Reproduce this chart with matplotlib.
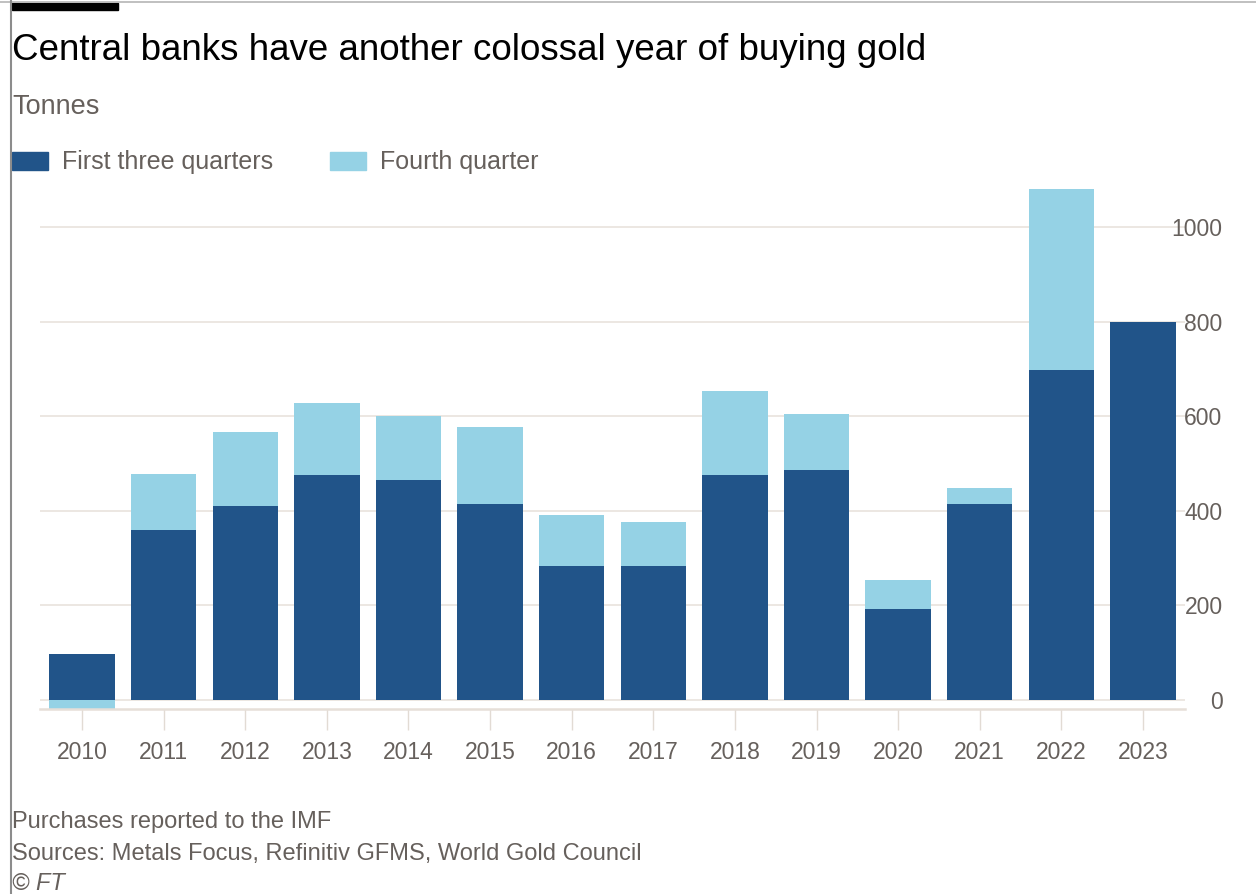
import matplotlib.pyplot as plt
import numpy as np
from matplotlib.patches import Rectangle
from matplotlib.lines import Line2D

# Central bank gold purchases, tonnes
years = ['2010', '2011', '2012', '2013', '2014', '2015', '2016',
         '2017', '2018', '2019', '2020', '2021', '2022', '2023']
first_three = [97, 360, 410, 477, 465, 415, 283, 283, 476, 487, 192, 415, 698, 800]
fourth = [-19, 118, 157, 151, 135, 162, 109, 94, 178, 117, 61, 33, 383, 0]
yticks = [0, 200, 400, 600, 800, 1000]

DARK = '#215489'
LIGHT = '#95d2e5'
GREY_TEXT = '#66605c'
GRID = '#e9e3dd'

plt.rcParams['font.family'] = ['Liberation Sans', 'DejaVu Sans']

W, H = 1256, 894
fig = plt.figure(figsize=(W / 100, H / 100), dpi=100)


def px(x, y):
    # pixel position (from top-left) to figure fraction
    return x / W, 1 - y / H


ax = fig.add_axes([40 / W, 1 - 709 / H, (1185 - 40) / W, (709 - 180) / H])
x = np.arange(len(years))
ax.bar(x, first_three, width=0.8, color=DARK, zorder=2)
bottoms = [f if q >= 0 else 0 for f, q in zip(first_three, fourth)]
ax.bar(x, fourth, bottom=bottoms, width=0.8, color=LIGHT, zorder=2)

ax.set_xlim(-0.515, len(years) - 0.485)
ax.set_ylim(-19, 1100)
ax.set_axisbelow(True)

ax.set_yticks(yticks)
ax.yaxis.tick_right()
ax.yaxis.grid(True, color=GRID, linewidth=1.2)
ax.tick_params(axis='y', length=0, pad=27, labelsize=16.5, labelcolor=GREY_TEXT)
for lab in ax.get_yticklabels():
    lab.set_horizontalalignment('right')

ax.set_xticks(x)
ax.set_xticklabels(years)
ax.tick_params(axis='x', length=15, width=1, color='#e2dbd4', pad=8,
               labelsize=16.5, labelcolor=GREY_TEXT)

for side in ['top', 'left', 'right']:
    ax.spines[side].set_visible(False)
ax.spines['bottom'].set_color('#e6dfd8')
ax.spines['bottom'].set_linewidth(1.8)

# header
fig.add_artist(Line2D([0, 1], [1 - 2 / H] * 2, color='#b5b5b5', linewidth=1.2))
fig.add_artist(Line2D([11 / W] * 2, [0, 1], color='#8c8c8c', linewidth=1.5))
fig.add_artist(Rectangle(px(12, 10), 106 / W, 7 / H, color='black',
                         transform=fig.transFigure))

fig.text(*px(12, 60), 'Central banks have another colossal year of buying gold',
         fontsize=26.5, color='black', va='baseline')
fig.text(*px(12, 114), 'Tonnes', fontsize=19.5, color=GREY_TEXT, va='baseline')

# legend
fig.add_artist(Rectangle(px(12, 170), 36 / W, 18 / H, color=DARK,
                         transform=fig.transFigure))
fig.text(*px(62, 162), 'First three quarters', fontsize=18, color=GREY_TEXT,
         va='center')
fig.add_artist(Rectangle(px(330, 170), 36 / W, 18 / H, color=LIGHT,
                         transform=fig.transFigure))
fig.text(*px(380, 162), 'Fourth quarter', fontsize=18, color=GREY_TEXT,
         va='center')

# footer
fig.text(*px(12, 828), 'Purchases reported to the IMF', fontsize=17, color=GREY_TEXT,
         va='baseline')
fig.text(*px(12, 860), 'Sources: Metals Focus, Refinitiv GFMS, World Gold Council',
         fontsize=17, color=GREY_TEXT, va='baseline')
fig.text(*px(12, 890), '© FT', fontsize=17, color=GREY_TEXT, style='italic',
         va='baseline')

fig.savefig('out.png', dpi=100)
